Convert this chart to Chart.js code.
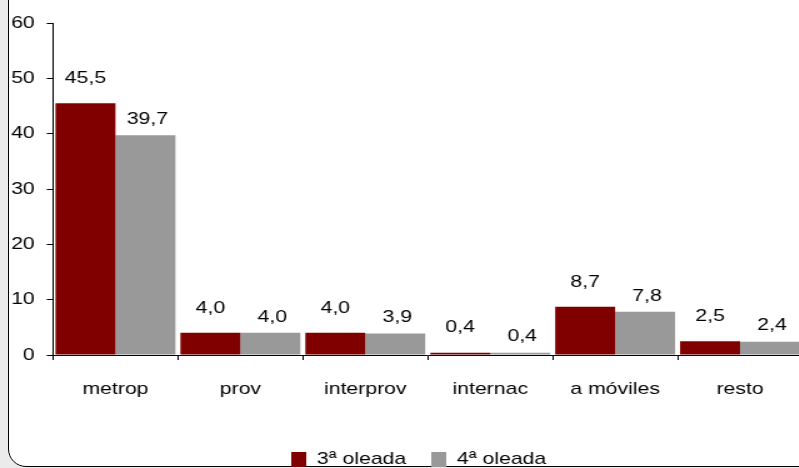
<!DOCTYPE html>
<html>
<head>
<meta charset="utf-8">
<script src="https://cdn.jsdelivr.net/npm/chart.js@4"></script>
<style>
    html, body { margin: 0; padding: 0; overflow: hidden; width: 799px; height: 468px; background: #ebebeb; }
    #frame {
        position: absolute; left: 8px; top: -40px; width: 900px; height: 507px;
        background: #fff; border: 1px solid #000; border-radius: 18px; box-sizing: border-box;
    }
    /* el gráfico original está estirado en horizontal */
    #wrap { position: absolute; left: 0; top: 0; width: 642px; height: 478px; transform: scaleX(1.25); transform-origin: 0 0; }
</style>
</head>
<body>
<div id="frame"></div>
<div id="wrap"><canvas id="chart" width="642" height="478"></canvas></div>
<script>
    const categorias = ['metrop', 'prov', 'interprov', 'internac', 'a móviles', 'resto'];
    const oleada3 = [45.5, 4.0, 4.0, 0.4, 8.7, 2.5];
    const oleada4 = [39.7, 4.0, 3.9, 0.4, 7.8, 2.4];
    const yTicks = [0, 10, 20, 30, 40, 50, 60];

    const fuente = { family: '"Liberation Sans", Arial, sans-serif', size: 17 };

    // Etiquetas de valor sobre cada barra
    const etiquetas = {
        id: 'etiquetas',
        afterDatasetsDraw(chart) {
            const ctx = chart.ctx;
            ctx.save();
            ctx.font = '17px "Liberation Sans", Arial, sans-serif';
            ctx.fillStyle = '#000';
            ctx.textAlign = 'center';
            ctx.textBaseline = 'middle';
            chart.data.datasets.forEach((ds, i) => {
                const meta = chart.getDatasetMeta(i);
                const subida = i === 0 ? 25 : 16;
                const dx = i === 0 ? 0 : 1.6;
                meta.data.forEach((bar, j) => {
                    const txt = ds.data[j].toFixed(1).replace('.', ',');
                    ctx.fillText(txt, bar.x + dx, bar.y - subida);
                });
            });
            ctx.restore();
        }
    };

    // La leyenda va un poco a la derecha, como en el original
    const moverLeyenda = {
        id: 'moverLeyenda',
        afterLayout(chart) {
            chart.legend.left += 14;
            chart.legend.right += 14;
        }
    };

    new Chart(document.getElementById('chart'), {
        type: 'bar',
        data: {
            labels: categorias,
            datasets: [{
                label: '3ª oleada',
                data: oleada3,
                backgroundColor: '#800000',
                categoryPercentage: 0.96,
                barPercentage: 1
            }, {
                label: '4ª oleada',
                data: oleada4,
                backgroundColor: '#999999',
                categoryPercentage: 0.96,
                barPercentage: 1
            }]
        },
        options: {
            responsive: false,
            animation: false,
            layout: { padding: { top: 23, left: 0, right: 0, bottom: 0 } },
            plugins: {
                tooltip: { enabled: false },
                legend: {
                    position: 'bottom',
                    labels: {
                        boxWidth: 12,
                        boxHeight: 15,
                        padding: 20,
                        color: '#000',
                        font: fuente
                    }
                }
            },
            scales: {
                x: {
                    afterFit: s => { s.height = 76; },
                    border: { color: '#000', width: 1 },
                    grid: { drawOnChartArea: false, tickLength: 5, color: '#000', offset: true },
                    ticks: { color: '#000', font: fuente, padding: 19 }
                },
                y: {
                    min: 0,
                    max: 60,
                    afterFit: s => { s.width = 42.4; },
                    afterBuildTicks: s => { s.ticks = yTicks.map(v => ({ value: v })); },
                    border: { color: '#000', width: 1 },
                    grid: { drawOnChartArea: false, tickLength: 5, color: '#000' },
                    ticks: { color: '#000', font: fuente, padding: 9.6 }
                }
            }
        },
        plugins: [etiquetas, moverLeyenda]
    });
</script>
</body>
</html>
